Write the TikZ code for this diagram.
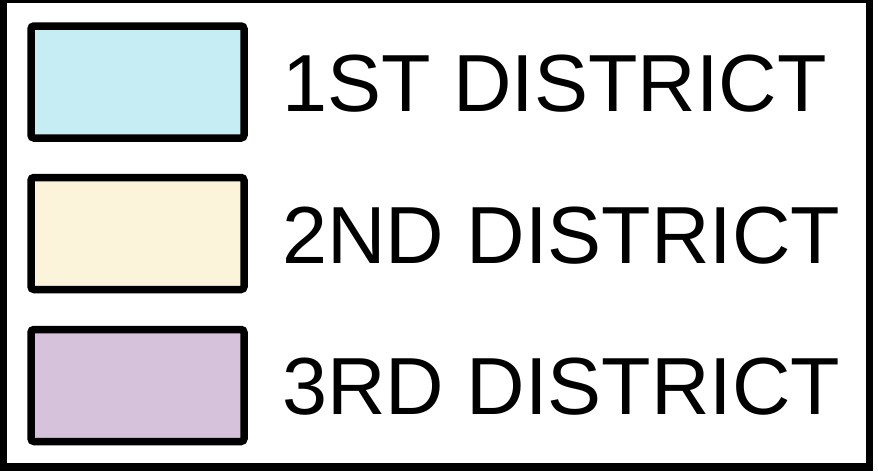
\documentclass[tikz,border=0pt]{standalone}
\usepackage{fontspec}
\setmainfont{Liberation Sans}
\definecolor{dblue}{HTML}{C6ECF4}
\definecolor{dcream}{HTML}{FBF3DA}
\definecolor{dlilac}{HTML}{D7C2DC}
\begin{document}
\begin{tikzpicture}[x=1pt,y=-1pt,
  swatch/.style={draw=black,line width=7.5pt,minimum width=213pt,minimum height=112pt,inner sep=0pt,rounded corners=3pt},
  label/.style={anchor=base west,inner sep=0pt,font=\fontsize{81}{97}\selectfont}]
\useasboundingbox (0,0) rectangle (878,474);
\clip (0,0) rectangle (878,474);
\draw[line width=7.5pt] (3.5,-0.5) rectangle (869.5,467);
\node[swatch,fill=dblue] (b1) at (137.5,82) {};
\node[swatch,fill=dcream] (b2) at (137.5,233.5) {};
\node[swatch,fill=dlilac] (b3) at (137.5,385.5) {};
\node[label] (t1) at (282,111.7) {1ST DISTRICT};
\node[label] (t2) at (282,263) {2ND DISTRICT};
\node[label] (t3) at (282,414.5) {3RD DISTRICT};
\end{tikzpicture}
\end{document}
